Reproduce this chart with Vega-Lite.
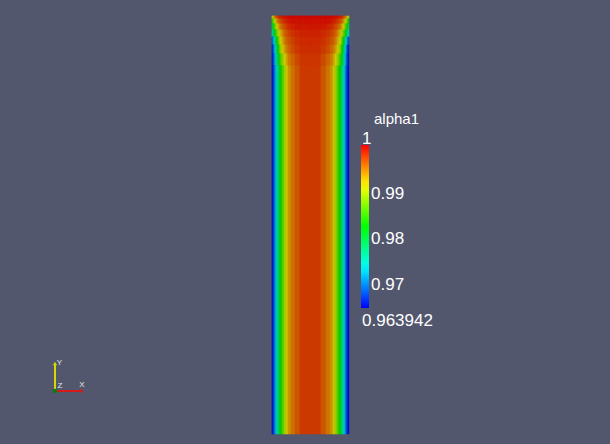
{
  "$schema": "https://vega.github.io/schema/vega-lite/v6.json",
  "width": 610,
  "height": 444,
  "autosize": {"type": "fit", "contains": "padding"},
  "padding": 0,
  "background": "#52576e",
  "config": {"view": {"stroke": null}},
  "datasets": {
    "rows": [
      {"band": "A", "y": 5.391, "y2": 5.429, "c01": 0.98918, "c02": 0.99207, "c03": 0.99387, "c04": 0.99531, "c05": 0.99639, "c06": 0.99711, "c07": 0.99784, "c08": 0.99820, "c09": 0.99856, "c10": 0.99892, "c11": 0.99928, "c12": 0.99928, "c13": 0.99964, "c14": 0.99964, "c15": 0.99964, "c16": 0.99964, "c17": 0.99964, "c18": 0.99964, "c19": 0.99964, "c20": 0.99964, "c21": 0.99928, "c22": 0.99928, "c23": 0.99892, "c24": 0.99856, "c25": 0.99820, "c26": 0.99784, "c27": 0.99711, "c28": 0.99639, "c29": 0.99531, "c30": 0.99387, "c31": 0.99207, "c32": 0.98918},
      {"band": "B", "y": 5.326, "y2": 5.391, "c01": 0.98269, "c02": 0.98630, "c03": 0.98918, "c04": 0.99134, "c05": 0.99279, "c06": 0.99423, "c07": 0.99531, "c08": 0.99603, "c09": 0.99675, "c10": 0.99748, "c11": 0.99820, "c12": 0.99856, "c13": 0.99892, "c14": 0.99928, "c15": 0.99928, "c16": 0.99928, "c17": 0.99928, "c18": 0.99928, "c19": 0.99928, "c20": 0.99892, "c21": 0.99856, "c22": 0.99820, "c23": 0.99748, "c24": 0.99675, "c25": 0.99603, "c26": 0.99531, "c27": 0.99423, "c28": 0.99279, "c29": 0.99134, "c30": 0.98918, "c31": 0.98630, "c32": 0.98269},
      {"band": "C", "y": 5.248, "y2": 5.326, "c01": 0.97837, "c02": 0.98197, "c03": 0.98485, "c04": 0.98738, "c05": 0.98918, "c06": 0.99098, "c07": 0.99243, "c08": 0.99351, "c09": 0.99495, "c10": 0.99603, "c11": 0.99675, "c12": 0.99748, "c13": 0.99820, "c14": 0.99856, "c15": 0.99892, "c16": 0.99892, "c17": 0.99892, "c18": 0.99892, "c19": 0.99856, "c20": 0.99820, "c21": 0.99748, "c22": 0.99675, "c23": 0.99603, "c24": 0.99495, "c25": 0.99351, "c26": 0.99243, "c27": 0.99098, "c28": 0.98918, "c29": 0.98738, "c30": 0.98485, "c31": 0.98197, "c32": 0.97837},
      {"band": "D", "y": 5.157, "y2": 5.248, "c01": 0.97404, "c02": 0.97764, "c03": 0.98053, "c04": 0.98305, "c05": 0.98557, "c06": 0.98738, "c07": 0.98918, "c08": 0.99062, "c09": 0.99243, "c10": 0.99423, "c11": 0.99567, "c12": 0.99639, "c13": 0.99711, "c14": 0.99784, "c15": 0.99820, "c16": 0.99856, "c17": 0.99856, "c18": 0.99820, "c19": 0.99784, "c20": 0.99711, "c21": 0.99639, "c22": 0.99567, "c23": 0.99423, "c24": 0.99243, "c25": 0.99062, "c26": 0.98918, "c27": 0.98738, "c28": 0.98557, "c29": 0.98305, "c30": 0.98053, "c31": 0.97764, "c32": 0.97404},
      {"band": "E", "y": 5.053, "y2": 5.157, "c01": 0.96755, "c02": 0.97043, "c03": 0.97332, "c04": 0.97692, "c05": 0.97981, "c06": 0.98269, "c07": 0.98557, "c08": 0.98846, "c09": 0.99062, "c10": 0.99279, "c11": 0.99459, "c12": 0.99567, "c13": 0.99639, "c14": 0.99711, "c15": 0.99784, "c16": 0.99820, "c17": 0.99820, "c18": 0.99784, "c19": 0.99711, "c20": 0.99639, "c21": 0.99567, "c22": 0.99459, "c23": 0.99279, "c24": 0.99062, "c25": 0.98846, "c26": 0.98557, "c27": 0.98269, "c28": 0.97981, "c29": 0.97692, "c30": 0.97332, "c31": 0.97043, "c32": 0.96755},
      {"band": "F", "y": 4.936, "y2": 5.053, "c01": 0.96538, "c02": 0.96755, "c03": 0.97043, "c04": 0.97332, "c05": 0.97692, "c06": 0.97981, "c07": 0.98233, "c08": 0.98485, "c09": 0.98846, "c10": 0.99134, "c11": 0.99315, "c12": 0.99459, "c13": 0.99567, "c14": 0.99675, "c15": 0.99748, "c16": 0.99802, "c17": 0.99802, "c18": 0.99748, "c19": 0.99675, "c20": 0.99567, "c21": 0.99459, "c22": 0.99315, "c23": 0.99134, "c24": 0.98846, "c25": 0.98485, "c26": 0.98233, "c27": 0.97981, "c28": 0.97692, "c29": 0.97332, "c30": 0.97043, "c31": 0.96755, "c32": 0.96538},
      {"band": "G", "y": 4.781, "y2": 4.936, "c01": 0.96502, "c02": 0.96682, "c03": 0.96935, "c04": 0.97187, "c05": 0.97476, "c06": 0.97728, "c07": 0.97945, "c08": 0.98197, "c09": 0.98521, "c10": 0.98846, "c11": 0.99098, "c12": 0.99279, "c13": 0.99459, "c14": 0.99567, "c15": 0.99675, "c16": 0.99766, "c17": 0.99766, "c18": 0.99675, "c19": 0.99567, "c20": 0.99459, "c21": 0.99279, "c22": 0.99098, "c23": 0.98846, "c24": 0.98521, "c25": 0.98197, "c26": 0.97945, "c27": 0.97728, "c28": 0.97476, "c29": 0.97187, "c30": 0.96935, "c31": 0.96682, "c32": 0.96502},
      {"band": "H", "y": 0, "y2": 4.781, "c01": 0.96466, "c02": 0.96610, "c03": 0.96827, "c04": 0.97043, "c05": 0.97260, "c06": 0.97476, "c07": 0.97692, "c08": 0.97909, "c09": 0.98197, "c10": 0.98557, "c11": 0.98882, "c12": 0.99134, "c13": 0.99351, "c14": 0.99495, "c15": 0.99621, "c16": 0.99748, "c17": 0.99748, "c18": 0.99621, "c19": 0.99495, "c20": 0.99351, "c21": 0.99134, "c22": 0.98882, "c23": 0.98557, "c24": 0.98197, "c25": 0.97909, "c26": 0.97692, "c27": 0.97476, "c28": 0.97260, "c29": 0.97043, "c30": 0.96827, "c31": 0.96610, "c32": 0.96466}
    ],
    "cols": [
      {"col": "c01", "x": 0, "x2": 0.013},
      {"col": "c02", "x": 0.013, "x2": 0.026},
      {"col": "c03", "x": 0.026, "x2": 0.039},
      {"col": "c04", "x": 0.039, "x2": 0.052},
      {"col": "c05", "x": 0.052, "x2": 0.065},
      {"col": "c06", "x": 0.065, "x2": 0.078},
      {"col": "c07", "x": 0.078, "x2": 0.091},
      {"col": "c08", "x": 0.091, "x2": 0.104},
      {"col": "c09", "x": 0.104, "x2": 0.130},
      {"col": "c10", "x": 0.130, "x2": 0.156},
      {"col": "c11", "x": 0.156, "x2": 0.182},
      {"col": "c12", "x": 0.182, "x2": 0.208},
      {"col": "c13", "x": 0.208, "x2": 0.247},
      {"col": "c14", "x": 0.247, "x2": 0.299},
      {"col": "c15", "x": 0.299, "x2": 0.364},
      {"col": "c16", "x": 0.364, "x2": 0.5},
      {"col": "c17", "x": 0.5, "x2": 0.636},
      {"col": "c18", "x": 0.636, "x2": 0.701},
      {"col": "c19", "x": 0.701, "x2": 0.753},
      {"col": "c20", "x": 0.753, "x2": 0.792},
      {"col": "c21", "x": 0.792, "x2": 0.818},
      {"col": "c22", "x": 0.818, "x2": 0.844},
      {"col": "c23", "x": 0.844, "x2": 0.870},
      {"col": "c24", "x": 0.870, "x2": 0.896},
      {"col": "c25", "x": 0.896, "x2": 0.909},
      {"col": "c26", "x": 0.909, "x2": 0.922},
      {"col": "c27", "x": 0.922, "x2": 0.935},
      {"col": "c28", "x": 0.935, "x2": 0.948},
      {"col": "c29", "x": 0.948, "x2": 0.961},
      {"col": "c30", "x": 0.961, "x2": 0.974},
      {"col": "c31", "x": 0.974, "x2": 0.987},
      {"col": "c32", "x": 0.987, "x2": 1}
    ]
  },
  "layer": [
    {
      "data": {"name": "rows"},
      "transform": [
        {"fold": ["c01","c02","c03","c04","c05","c06","c07","c08","c09","c10","c11","c12","c13","c14","c15","c16","c17","c18","c19","c20","c21","c22","c23","c24","c25","c26","c27","c28","c29","c30","c31","c32"], "as": ["col", "alpha1"]},
        {"lookup": "col", "from": {"data": {"name": "cols"}, "key": "col", "fields": ["x", "x2"]}}
      ],
      "mark": {"type": "rect"},
      "encoding": {
        "x": {"field": "x", "type": "quantitative", "axis": null, "scale": {"domain": [-3.532, 4.390], "nice": false, "zero": false}},
        "x2": {"field": "x2"},
        "y": {"field": "y", "type": "quantitative", "axis": null, "scale": {"domain": [-0.130, 5.636], "nice": false, "zero": false}},
        "y2": {"field": "y2"},
        "color": {
          "field": "alpha1", "type": "quantitative",
          "scale": {"domain": [0.963942, 0.9729565, 0.981971, 0.9909855, 1], "range": ["#0000ff", "#00ffff", "#00ff00", "#ffff00", "#ff0000"], "interpolate": "rgb"},
          "legend": {
            "orient": "none", "legendX": 361, "legendY": 112, "padding": 0,
            "direction": "vertical", "gradientLength": 163, "gradientThickness": 8, "gradientStrokeWidth": 0,
            "title": "alpha1", "titleFont": "Liberation Sans", "titleFontSize": 15, "titleFontWeight": "normal", "titleColor": "#ffffff", "titlePadding": 18,
            "labelFont": "Liberation Sans", "labelFontSize": 17, "labelColor": "#ffffff", "labelOffset": 2, "labelOverlap": false,
            "values": [0.963942, 0.97, 0.98, 0.99, 1],
            "labelExpr": "datum.value >= 1 ? '1' : datum.value < 0.965 ? '0.963942' : format(datum.value, '.2f')",
            "encode": {
              "labels": {"update": {
                "baseline": {"value": "alphabetic"},
                "dx": {"signal": "datum.value >= 1 || datum.value < 0.965 ? -9 : 0"},
                "dy": {"signal": "datum.value >= 1 ? -1 : datum.value < 0.965 ? 18 : 9"}
              }},
              "title": {"update": {"dx": {"value": 13}}}
            }
          }
        }
      }
    },
    {
      "data": {"name": "rows"},
      "transform": [
        {"fold": ["c01","c02","c03","c04","c05","c06","c07","c08","c09","c10","c11","c12","c13","c14","c15","c16","c17","c18","c19","c20","c21","c22","c23","c24","c25","c26","c27","c28","c29","c30","c31","c32"], "as": ["col", "alpha1"]},
        {"lookup": "col", "from": {"data": {"name": "cols"}, "key": "col", "fields": ["x", "x2"]}}
      ],
      "mark": {"type": "rect", "strokeWidth": 0.6},
      "encoding": {
        "x": {"field": "x", "type": "quantitative"},
        "x2": {"field": "x2"},
        "y": {"field": "y", "type": "quantitative"},
        "y2": {"field": "y2"},
        "color": {
          "field": "alpha1", "type": "quantitative",
          "scale": {"domain": [0.963942, 0.9729565, 0.981971, 0.9909855, 1], "range": ["#0000cc", "#00cccc", "#00cc00", "#cccc00", "#cc0000"], "interpolate": "rgb"},
          "legend": null
        },
        "stroke": {
          "field": "alpha1", "type": "quantitative",
          "scale": {"domain": [0.963942, 0.9729565, 0.981971, 0.9909855, 1], "range": ["#0000cc", "#00cccc", "#00cc00", "#cccc00", "#cc0000"], "interpolate": "rgb"},
          "legend": null
        }
      }
    },
    {
      "data": {"values": [
        {"axis": "X", "x": -2.818, "y": 0.558, "x2": -2.48, "y2": 0.558},
        {"axis": "Y", "x": -2.818, "y": 0.558, "x2": -2.818, "y2": 0.905}
      ]},
      "mark": {"type": "rule", "strokeWidth": 2},
      "encoding": {
        "x": {"field": "x", "type": "quantitative"},
        "x2": {"field": "x2"},
        "y": {"field": "y", "type": "quantitative"},
        "y2": {"field": "y2"},
        "color": {"field": "axis", "type": "nominal", "scale": {"domain": ["X", "Y"], "range": ["#d41a1a", "#d8d800"]}, "legend": null}
      }
    },
    {
      "data": {"values": [
        {"axis": "X", "x": -2.47, "y": 0.558},
        {"axis": "Y", "x": -2.818, "y": 0.915}
      ]},
      "mark": {"type": "point", "filled": true, "opacity": 1, "size": 18},
      "encoding": {
        "x": {"field": "x", "type": "quantitative"},
        "y": {"field": "y", "type": "quantitative"},
        "shape": {"field": "axis", "type": "nominal", "scale": {"domain": ["X", "Y"], "range": ["triangle-right", "triangle-up"]}, "legend": null},
        "color": {"field": "axis", "type": "nominal", "scale": {"domain": ["X", "Y"], "range": ["#d41a1a", "#d8d800"]}, "legend": null}
      }
    },
    {
      "data": {"values": [{"axis": "Z", "x": -2.818, "y": 0.558}]},
      "mark": {"type": "circle", "size": 22, "color": "#0a7a0a", "opacity": 1},
      "encoding": {
        "x": {"field": "x", "type": "quantitative"},
        "y": {"field": "y", "type": "quantitative"}
      }
    },
    {
      "data": {"values": [
        {"label": "X", "x": -2.468, "y": 0.630},
        {"label": "Y", "x": -2.760, "y": 0.922},
        {"label": "Z", "x": -2.753, "y": 0.623}
      ]},
      "mark": {"type": "text", "font": "Liberation Sans", "fontSize": 8, "color": "#e8e8e8", "align": "center", "baseline": "middle"},
      "encoding": {
        "x": {"field": "x", "type": "quantitative"},
        "y": {"field": "y", "type": "quantitative"},
        "text": {"field": "label"}
      }
    }
  ],
  "resolve": {"scale": {"color": "independent", "stroke": "independent", "shape": "independent"}}
}
